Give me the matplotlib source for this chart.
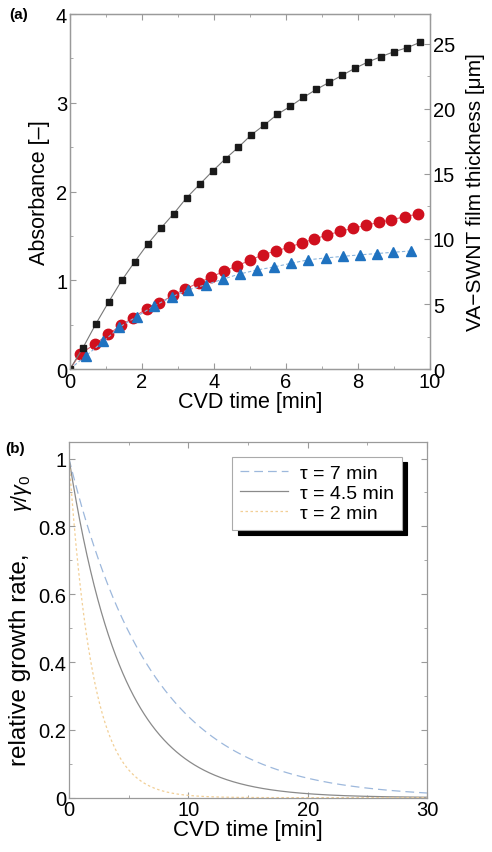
import numpy as np
import matplotlib
matplotlib.use("Agg")
import matplotlib.pyplot as plt
from matplotlib.ticker import MultipleLocator, FuncFormatter

plt.rcParams['font.family'] = ['Liberation Sans', 'DejaVu Sans']
plt.rcParams['mathtext.fontset'] = 'custom'
plt.rcParams['mathtext.rm'] = 'Liberation Sans'
plt.rcParams['mathtext.it'] = 'Liberation Sans:italic'

# (a) absorbance during growth
abs_time = [0.0, 0.36, 0.72, 1.08, 1.44, 1.8, 2.16, 2.52, 2.88, 3.24, 3.6, 3.96, 4.32,
            4.68, 5.04, 5.4, 5.76, 6.12, 6.48, 6.84, 7.2, 7.56, 7.92, 8.28, 8.64,
            9.0, 9.36, 9.72]
absorbance = [0.0, 0.24, 0.51, 0.76, 1.0, 1.21, 1.41, 1.585, 1.75, 1.93, 2.08, 2.23,
              2.37, 2.50, 2.64, 2.75, 2.87, 2.96, 3.06, 3.15, 3.23, 3.31, 3.39, 3.46,
              3.52, 3.575, 3.62, 3.68]

# film thickness [um], first series
red_time = [0.0, 0.28, 0.69, 1.06, 1.41, 1.76, 2.13, 2.48, 2.85, 3.2, 3.57, 3.93, 4.28,
            4.64, 4.99, 5.35, 5.72, 6.08, 6.44, 6.79, 7.15, 7.51, 7.87, 8.22, 8.57,
            8.93, 9.3, 9.66]
red_thick = [0.0, 1.16, 1.91, 2.66, 3.35, 3.96, 4.64, 5.05, 5.67, 6.15, 6.63, 7.10,
             7.51, 7.94, 8.35, 8.78, 9.08, 9.36, 9.70, 10.0, 10.31, 10.59, 10.83,
             11.06, 11.27, 11.48, 11.71, 11.92]

# film thickness [um], second series
blue_time = [0.0, 0.44, 0.93, 1.37, 1.85, 2.33, 2.82, 3.27, 3.78, 4.24, 4.71, 5.2,
             5.67, 6.14, 6.62, 7.1, 7.59, 8.06, 8.52, 8.98, 9.47]
blue_thick = [0.0, 1.02, 2.12, 3.21, 4.03, 4.85, 5.53, 6.08, 6.49, 6.90, 7.31, 7.62,
              7.85, 8.13, 8.40, 8.54, 8.67, 8.78, 8.88, 8.98, 9.08]

# (b) catalyst lifetimes for the decay curves [min]
taus = [7, 4.5, 2]
tau_labels = ['\u03c4 = 7 min', '\u03c4 = 4.5 min', '\u03c4 = 2 min']
tau_colors = ['#9db8dc', '#8a8a8a', '#f2cf96']
tau_styles = [(0, (7, 4)), '-', (0, (2, 2))]

spine_col = '#9a9a9a'
LABEL_FS = 15.5


def style_axes(ax):
    for s in ax.spines.values():
        s.set_color(spine_col)
        s.set_linewidth(0.9)
    ax.tick_params(which='both', direction='in', color=spine_col, labelsize=14.5, pad=2)
    ax.tick_params(which='major', length=4)
    ax.tick_params(which='minor', length=2.5)


fig = plt.figure(figsize=(4.92, 8.53), dpi=100)

# ---- panel (a)
ax = fig.add_axes([0.1423, 0.5662, 0.7317, 0.4162])
ax2 = ax.twinx()
ax.set_zorder(ax2.get_zorder() + 1)
ax.patch.set_visible(False)

ax.plot(abs_time, absorbance, '-', color='#777777', lw=0.8,
        marker='s', ms=4.8, mfc='#1a1a1a', mec='#1a1a1a')
ax2.plot(red_time, red_thick, '-', color='#e06070', lw=0.8,
         marker='o', ms=7.5, mfc='#d0101e', mec='#d0101e', markevery=slice(1, None))
ax2.plot(blue_time, blue_thick, color='#8ab4dc', lw=0.8, ls=(0, (3, 2)),
         marker='^', ms=7, mfc='#1f72c0', mec='#1f72c0', markevery=slice(1, None))

ax.set_xlim(0, 10)
ax.set_ylim(0, 4)
ax2.set_ylim(0, 27.3)
ax.xaxis.set_major_locator(MultipleLocator(2))
ax.xaxis.set_minor_locator(MultipleLocator(1))
ax.yaxis.set_major_locator(MultipleLocator(1))
ax.yaxis.set_minor_locator(MultipleLocator(0.5))
ax2.yaxis.set_major_locator(MultipleLocator(5))
ax2.yaxis.set_minor_locator(MultipleLocator(2.5))
style_axes(ax)
style_axes(ax2)
ax.tick_params(which='both', top=True)
ax.set_xlabel('CVD time [min]', fontsize=LABEL_FS, labelpad=0)
ax.set_ylabel('Absorbance [\u2013]', fontsize=LABEL_FS, labelpad=4)
ax2.set_ylabel('VA\u2212SWNT film thickness [\u03bcm]', fontsize=15, labelpad=8)
fig.text(0.018, 0.982, '(a)', fontsize=11, fontweight='bold', va='center')

# ---- panel (b)
bx = fig.add_axes([0.1402, 0.0637, 0.7276, 0.4174])
t = np.linspace(0, 30, 600)
for tau, lab, col, st in zip(taus, tau_labels, tau_colors, tau_styles):
    bx.plot(t, np.exp(-t / tau), color=col, ls=st, lw=0.9, label=lab)

bx.set_xlim(0, 30)
bx.set_ylim(0, 1.05)
bx.xaxis.set_major_locator(MultipleLocator(10))
bx.xaxis.set_minor_locator(MultipleLocator(5))
bx.yaxis.set_major_locator(MultipleLocator(0.2))
bx.yaxis.set_minor_locator(MultipleLocator(0.1))
bx.yaxis.set_major_formatter(FuncFormatter(
    lambda v, p: '0' if v == 0 else ('1' if abs(v - 1) < 1e-9 else f'{v:.1f}')))
style_axes(bx)
bx.tick_params(which='both', top=True, right=True)
bx.set_xlabel('CVD time [min]', fontsize=16, labelpad=0)

# y label with a smaller symbol part
fig.text(0.040, 0.227, 'relative growth rate,', rotation=90, fontsize=17.5,
         ha='center', va='center')
fig.text(0.043, 0.422, r'$\gamma/\gamma_0$', rotation=90, fontsize=15.5,
         ha='center', va='center')

leg = bx.legend(loc='upper right', bbox_to_anchor=(0.93, 0.958), fontsize=14,
                frameon=True, fancybox=False, handlelength=2.5, handletextpad=0.6,
                borderpad=0.4, labelspacing=0.12, borderaxespad=0,
                shadow={'color': 'black', 'alpha': 1.0, 'ox': 4, 'oy': -4})
leg.get_frame().set_edgecolor('#aaaaaa')
leg.get_frame().set_linewidth(0.8)
fig.text(0.01, 0.474, '(b)', fontsize=11, fontweight='bold', va='center')

fig.savefig('out.png', dpi=100)
